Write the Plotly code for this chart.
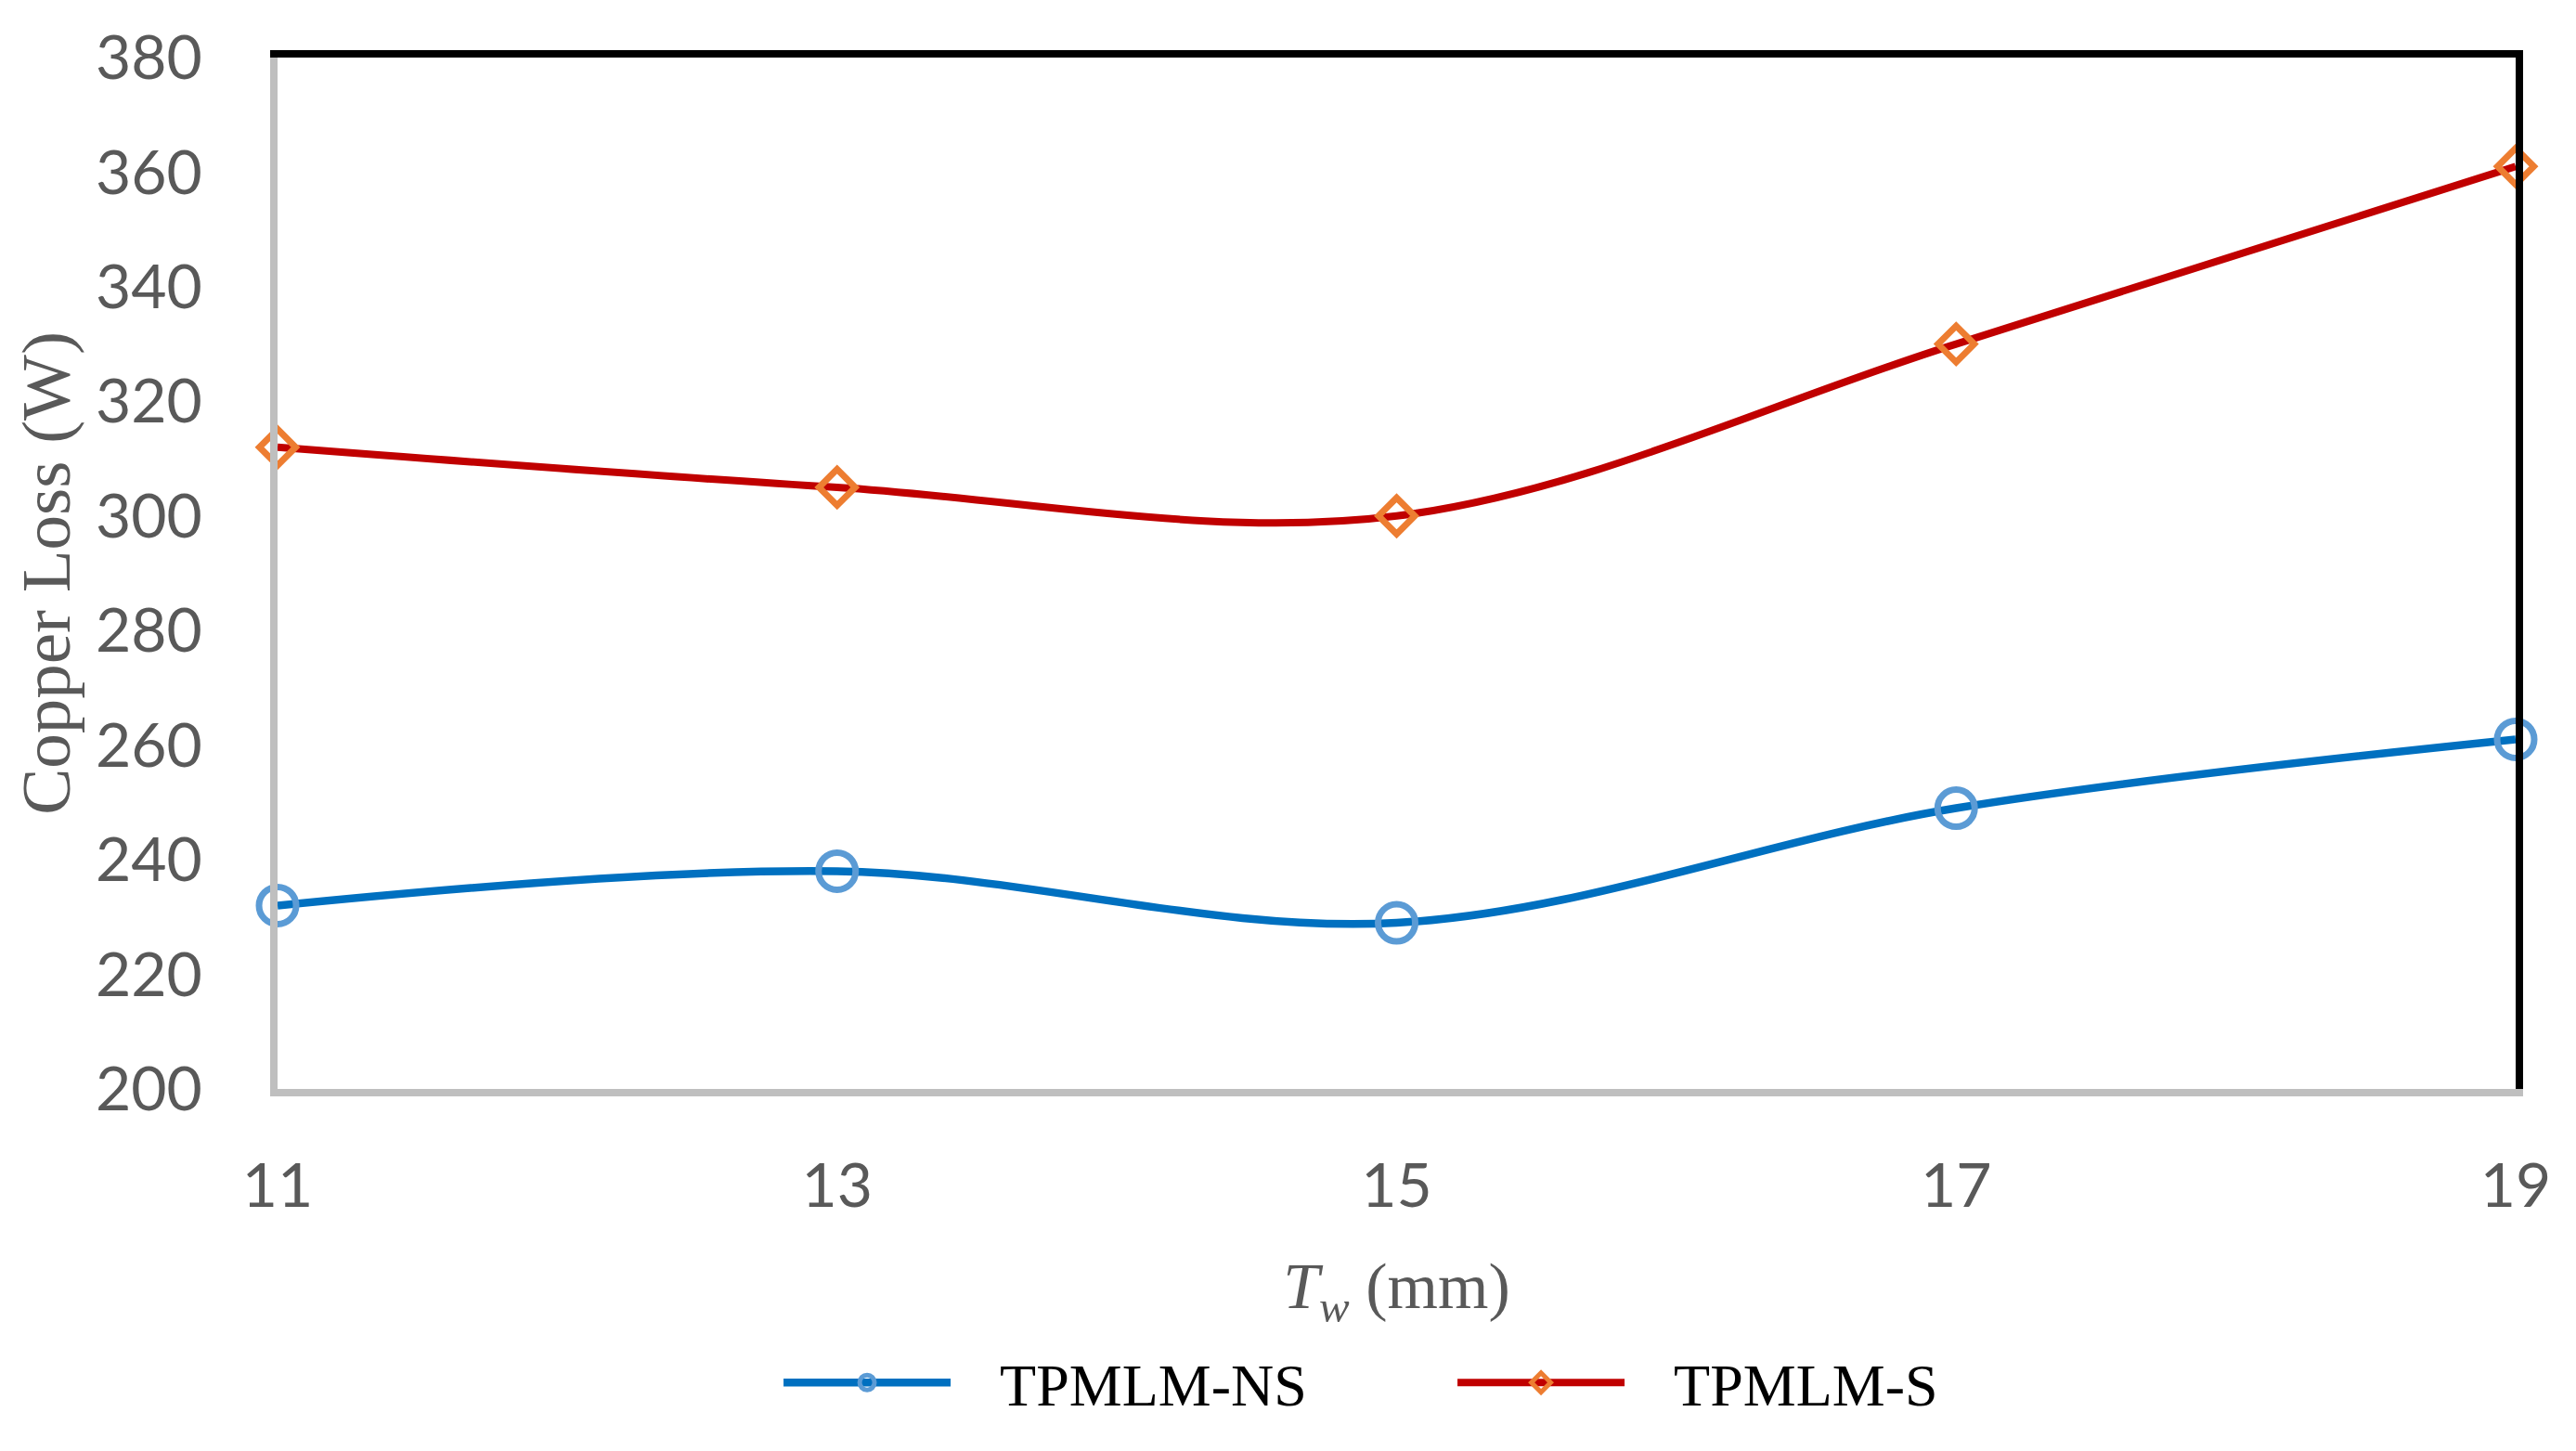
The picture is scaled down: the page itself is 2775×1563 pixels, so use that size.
import plotly.graph_objects as go

tw = [11, 13, 15, 17, 19]
ns_loss = [232, 238, 229, 249, 261]
s_loss = [312, 305, 300, 330, 361]
x_ticks = [11, 13, 15, 17, 19]
y_ticks = [200, 220, 240, 260, 280, 300, 320, 340, 360, 380]
series_names = ["TPMLM-NS", "TPMLM-S"]

pad = "\u00a0\u00a0\u00a0"

fig = go.Figure()
fig.add_trace(go.Scatter(
    x=tw, y=ns_loss, name=pad + series_names[0], mode="lines+markers",
    line=dict(color="#0070C0", width=8.5, shape="spline", smoothing=1.0),
    marker=dict(symbol="circle-open", size=40, color="#5B9BD5", line=dict(width=7, color="#5B9BD5")),
    cliponaxis=False,
))
fig.add_trace(go.Scatter(
    x=tw, y=s_loss, name=pad + series_names[1], mode="lines+markers",
    line=dict(color="#C00000", width=8, shape="spline", smoothing=1.0),
    marker=dict(symbol="diamond-open", size=30, color="#ED7D31", line=dict(width=7, color="#ED7D31")),
    cliponaxis=False,
))

tick_font = dict(family="Lato, Open Sans, sans-serif", size=66, color="#595959")
serif = "Liberation Serif, Times New Roman, serif"

fig.update_layout(
    width=2775, height=1563,
    margin=dict(l=290, r=73, t=37, b=398),
    paper_bgcolor="white", plot_bgcolor="white",
    showlegend=True,
    legend=dict(orientation="h", x=0.224, xanchor="left", y=-0.285, yanchor="middle",
                font=dict(family=serif, size=64, color="black"),
                itemwidth=180, entrywidth=531, bgcolor="rgba(0,0,0,0)"),
    xaxis=dict(range=[11, 19], tickvals=x_ticks, ticktext=[str(v) for v in x_ticks],
               showgrid=False, zeroline=False, showline=True, linecolor="#BFBFBF", linewidth=8,
               ticks="", tickfont=tick_font, ticklabelstandoff=40, ticklabeloverflow="allow",
               title=dict(text="<i>T</i><sub><i>w</i></sub> (mm)",
                          font=dict(family=serif, size=70, color="#595959"), standoff=50)),
    yaxis=dict(range=[200, 380], tickvals=y_ticks, showgrid=False, zeroline=False,
               showline=True, linecolor="#BFBFBF", linewidth=8,
               ticks="", tickfont=tick_font, ticklabelstandoff=60, ticklabeloverflow="allow",
               title=dict(text="Copper Loss (W)", font=dict(family=serif, size=75, color="#595959"),
                          standoff=30)),
    xaxis2=dict(overlaying="x", side="top", range=[11, 19], showline=True, linecolor="black",
                linewidth=8, showticklabels=False, ticks="", showgrid=False, zeroline=False),
    yaxis2=dict(overlaying="y", side="right", range=[200, 380], showline=True, linecolor="black",
                linewidth=8, showticklabels=False, ticks="", showgrid=False, zeroline=False),
)
# invisible trace to activate the black top/right frame axes
fig.add_trace(go.Scatter(x=[tw[0]], y=[ns_loss[0]], xaxis="x2", yaxis="y2", mode="markers",
                         marker=dict(opacity=0), showlegend=False, hoverinfo="skip"))

fig.write_html("out.html")
